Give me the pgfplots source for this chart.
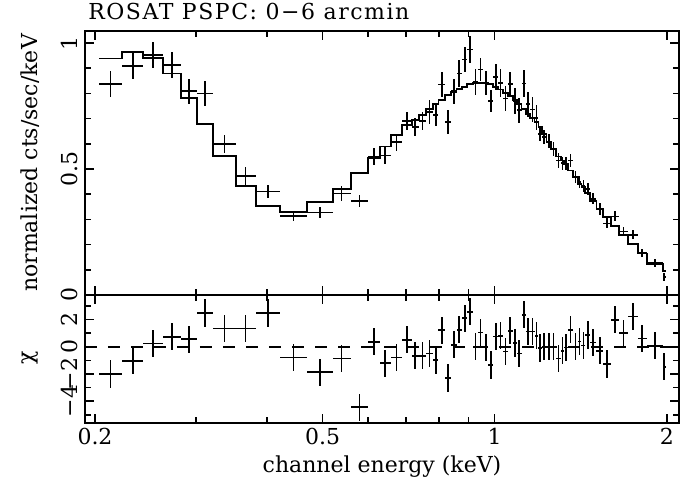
\documentclass[border=0pt]{standalone}
\usepackage{fontspec}
\setmainfont{DejaVu Serif}
\usepackage{pgfplots}
\pgfplotsset{compat=1.18}
\usepackage{pgfplotstable}
\newcommand\ff{\fontsize{16.5}{19}\selectfont}

% xc = bin centre (keV), xm/xp = half-widths, y = data, ey = error, m = model, chi = residual
\pgfplotstableread{
xc xm xp y ey m chi ec
0.21287 0.00962 0.01009 0.8367 0.051 0.9390 -2.00 1
0.23273 0.00977 0.01020 0.9096 0.053 0.9629 -1.03 1
0.25277 0.00984 0.01023 0.9522 0.053 0.9422 0.24 1
0.27253 0.00953 0.00988 0.9135 0.053 0.8793 0.73 1
0.29200 0.00959 0.00992 0.8088 0.050 0.7837 0.56 1
0.31180 0.00988 0.01021 0.7996 0.049 0.6773 2.47 1
0.33685 0.01484 0.01553 0.6004 0.036 0.5510 1.34 1
0.36684 0.01446 0.01507 0.4729 0.035 0.4331 1.34 1
0.40099 0.01908 0.02011 0.4104 0.027 0.3518 2.47 1
0.44489 0.02379 0.02513 0.3147 0.020 0.3307 -0.78 1
0.49469 0.02467 0.02594 0.3279 0.023 0.3677 -1.88 1
0.53985 0.01922 0.01992 0.4030 0.030 0.4211 -0.86 1
0.57996 0.02019 0.02089 0.3745 0.024 0.4833 -4.45 1
0.61518 0.01433 0.01465 0.5498 0.033 0.5430 0.37 1
0.64393 0.01410 0.01442 0.5538 0.035 0.5896 -1.22 1
0.67349 0.01514 0.01549 0.6068 0.034 0.6335 -0.78 1
0.70256 0.01358 0.01385 0.6904 0.036 0.6733 0.51 1
0.72658 0.01017 0.01031 0.6665 0.036 0.6960 -0.66 1
0.74810 0.01121 0.01138 0.6904 0.036 0.7131 -0.66 1
0.76948 0.01000 0.01012 0.7263 0.047 0.7371 -0.49 1
0.78860 0.00900 0.00910 0.7131 0.044 0.7570 -0.98 1
0.80787 0.01017 0.01031 0.8355 0.050 0.7757 1.22 1
0.82813 0.00995 0.01006 0.6865 0.047 0.7928 -2.30 1
0.84787 0.00968 0.00978 0.8088 0.050 0.8060 0.15 1
0.86719 0.00954 0.00965 0.8793 0.053 0.8167 1.25 1
0.88625 0.00941 0.00950 0.9351 0.050 0.8259 2.10 1
0.90572 0.00997 0.01009 0.9749 0.053 0.8367 2.57 1
0.92563 0.00982 0.00993 0.8458 0.050 0.8418 0.00 1
0.94502 0.00946 0.00956 0.8952 0.047 0.8418 1.05 1
0.96463 0.01005 0.01015 0.8418 0.047 0.8418 -0.05 1
0.98464 0.00986 0.00996 0.7701 0.044 0.8367 -1.34 1
1.00425 0.00965 0.00975 0.8657 0.053 0.8259 0.76 1
1.02426 0.01026 0.01036 0.8418 0.056 0.8155 0.80 1
1.04509 0.01047 0.01057 0.7797 0.050 0.8020 -0.34 1
1.06527 0.00961 0.00968 0.8367 0.050 0.7888 1.17 1
1.08452 0.00957 0.00964 0.7701 0.053 0.7729 0.27 1
1.10412 0.00996 0.01005 0.7331 0.050 0.7570 -0.49 1
1.12431 0.01014 0.01023 0.8394 0.053 0.7382 2.35 1
1.14440 0.00986 0.00995 0.7570 0.050 0.7199 1.12 1
1.16415 0.00980 0.00989 0.7359 0.050 0.7040 1.12 1
1.18353 0.00949 0.00956 0.7040 0.050 0.6865 0.80 1
1.20176 0.00867 0.00874 0.6402 0.030 0.6665 -0.10 1
1.22127 0.01077 0.01086 0.6267 0.027 0.6375 0.00 1
1.24359 0.01146 0.01157 0.6096 0.028 0.6068 0.00 1
1.26785 0.01269 0.01283 0.5805 0.028 0.5805 0.00 1
1.29285 0.01217 0.01230 0.5339 0.028 0.5498 -0.86 1
1.31384 0.00869 0.00875 0.5231 0.026 0.5339 -0.30 1
1.33328 0.01069 0.01078 0.5207 0.026 0.5207 -0.05 1
1.35766 0.01360 0.01373 0.5339 0.026 0.4940 1.25 1
1.38443 0.01304 0.01317 0.4673 0.024 0.4673 0.00 1
1.40804 0.01044 0.01053 0.4474 0.024 0.4410 0.39 1
1.42947 0.01090 0.01095 0.4343 0.024 0.4303 0.10 1
1.45499 0.01457 0.01472 0.4211 0.024 0.4036 0.86 1
1.48817 0.01846 0.01868 0.3813 0.022 0.3745 0.32 1
1.52700 0.02015 0.02042 0.3414 0.022 0.3414 -0.29 1
1.57159 0.02417 0.02455 0.2841 0.020 0.3080 -1.27 1
1.62304 0.02690 0.02734 0.3120 0.020 0.2749 1.98 1
1.67954 0.02916 0.02966 0.2522 0.018 0.2390 1.00 1
1.74400 0.03480 0.03546 0.2390 0.018 0.2020 2.22 1
1.81198 0.03252 0.03312 0.1685 0.016 0.1645 0.61 1
1.90751 0.06241 0.06068 0.1263 0.016 0.1235 0.07 1
1.98012 0.01193 0.01199 0.0717 0.016 0.0956 -1.47 1
}\bins

% model histogram: left bin edge, model value (last row = right edge of last bin)
\pgfplotstableread{
x m
0.20325 0.9390
0.22296 0.9629
0.24293 0.9422
0.26300 0.8793
0.28241 0.7837
0.30192 0.6773
0.32201 0.5510
0.35238 0.4331
0.38191 0.3518
0.42110 0.3307
0.47002 0.3677
0.52063 0.4211
0.55977 0.4833
0.60085 0.5430
0.62983 0.5896
0.65835 0.6335
0.68898 0.6733
0.71641 0.6960
0.73689 0.7131
0.75948 0.7371
0.77960 0.7570
0.79770 0.7757
0.81818 0.7928
0.83819 0.8060
0.85765 0.8167
0.87684 0.8259
0.89575 0.8367
0.91581 0.8418
0.93556 0.8418
0.95458 0.8418
0.97478 0.8367
0.99460 0.8259
1.01400 0.8155
1.03462 0.8020
1.05566 0.7888
1.07495 0.7729
1.09416 0.7570
1.11417 0.7382
1.13454 0.7199
1.15435 0.7040
1.17404 0.6865
1.19309 0.6665
1.21050 0.6375
1.23213 0.6068
1.25516 0.5805
1.28068 0.5498
1.30515 0.5339
1.32259 0.5207
1.34406 0.4940
1.37139 0.4673
1.39760 0.4410
1.41857 0.4303
1.44042 0.4036
1.46971 0.3745
1.50685 0.3414
1.54742 0.3080
1.59614 0.2749
1.65038 0.2390
1.70920 0.2020
1.77946 0.1645
1.84510 0.1235
1.96819 0.0956
1.99211 0.0956
}\model

\begin{document}
\begin{tikzpicture}
\pgfplotsset{
  every axis/.append style={
    scale only axis, width=445.5pt,
    xmode=log, xmin=0.1921, xmax=2.101,
    axis line style={line width=1.5pt},
    tick style={line width=1.2pt, black},
    major tick length=7pt, minor tick length=4.5pt,
    tick align=inside, tick pos=both,
    xticklabel pos=lower, yticklabel pos=left,
    xtick={0.2,0.5,1,2},
    minor xtick={0.3,0.4,0.6,0.7,0.8,0.9},
    tick label style={font=\ff},
    label style={font=\ff},
    yticklabel style={xshift=-2pt, rotate=90, anchor=south},
  },
}
\begin{axis}[name=top, height=198pt,
  ymin=0, ymax=1.048,
  ytick={0,0.5,1}, yticklabels={0,0.5,1},
  minor ytick={0.1,0.2,0.3,0.4,0.6,0.7,0.8,0.9},
  xticklabels={},
  ylabel={normalized cts/sec/keV},
  ylabel style={at={(axis description cs:-0.0926,0.5)}, anchor=center},
]
\addplot[const plot, black, line width=1.4pt] table[x=x, y=m] {\model};
\addplot[draw=none, mark=none,
  error bars/.cd, x dir=both, x explicit, y dir=both, y explicit,
  error mark=none, error bar style={draw=black, solid, line width=1.3pt}]
  table[x=xc, y=y, x error plus=xp, x error minus=xm, y error=ey] {\bins};
\end{axis}
\node[anchor=base west, inner sep=0pt, font=\ff] at ([shift={(2.25pt,8.5pt)}]top.north west) {\addfontfeature{LetterSpace=7}ROSAT PSPC: 0−6 arcmin};
\begin{axis}[name=bot, at={(top.south west)}, anchor=north west, height=96pt,
  ymin=-5.6, ymax=3.8,
  ytick={-4,-2,0,2}, yticklabels={−4,−2,0,2},
  minor ytick={-5,-3,-1,1,3},
  xticklabels={0.2,0.5,1,2},
  xlabel={channel energy (keV)},
  xlabel style={at={(axis description cs:0.5,-0.344)}, anchor=center},
  ylabel={χ},
  ylabel style={at={(axis description cs:-0.0926,0.508)}, anchor=center},
]
\addplot[black, line width=1.2pt, dash pattern=on 8.75pt off 8.5pt] coordinates {(0.1921,0) (2.101,0)};
\addplot[draw=none, mark=none,
  error bars/.cd, x dir=both, x explicit, y dir=both, y explicit,
  error mark=none, error bar style={draw=black, solid, line width=1.3pt}]
  table[x=xc, y=chi, x error plus=xp, x error minus=xm, y error=ec] {\bins};
\end{axis}
\pgfresetboundingbox
\path[use as bounding box] ([shift={(-63.75pt,23.25pt)}]top.north west) rectangle ([shift={(8.25pt,-45.75pt)}]bot.south east);
\end{tikzpicture}
\end{document}
